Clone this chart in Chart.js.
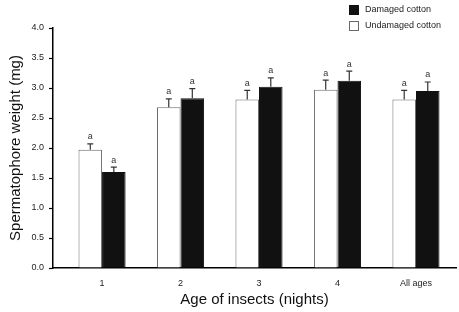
<!DOCTYPE html>
<html>
<head>
<meta charset="utf-8">
<script src="https://cdn.jsdelivr.net/npm/chart.js@4.4.0/dist/chart.umd.min.js"></script>
<style>
  html, body { margin: 0; padding: 0; background: #fff; }
  #wrap { width: 459px; height: 312px; }
</style>
</head>
<body>
<div id="wrap"><canvas id="bar-chart"></canvas></div>
<script>
var ages = ["1", "2", "3", "4", "All ages"];
var undamagedValues = [1.97, 2.68, 2.81, 2.97, 2.81];
var undamagedErrors = [0.10, 0.14, 0.15, 0.16, 0.15];
var damagedValues = [1.60, 2.83, 3.02, 3.12, 2.95];
var damagedErrors = [0.08, 0.16, 0.15, 0.16, 0.15];
var undamagedLetters = ["a", "a", "a", "a", "a"];
var damagedLetters = ["a", "a", "a", "a", "a"];
var yTicks = [0, 0.5, 1, 1.5, 2, 2.5, 3, 3.5, 4];

var FONT = "'Liberation Sans', Arial, sans-serif";

function toPoints(values) {
  return values.map(function (v, i) { return { x: i + 1, y: v }; });
}

// error whiskers (upward only) + significance letters
var errorBars = {
  id: 'errorBars',
  afterDatasetsDraw: function (chart) {
    var ctx = chart.ctx;
    var yScale = chart.scales.y;
    chart.data.datasets.forEach(function (ds, di) {
      var meta = chart.getDatasetMeta(di);
      meta.data.forEach(function (bar, i) {
        var v = ds.data[i].y;
        var top = yScale.getPixelForValue(v + ds.errors[i]);
        var base = yScale.getPixelForValue(v);
        ctx.save();
        ctx.strokeStyle = '#333';
        ctx.lineWidth = 1.2;
        ctx.beginPath();
        ctx.moveTo(bar.x, base);
        ctx.lineTo(bar.x, top);
        ctx.moveTo(bar.x - 3, top);
        ctx.lineTo(bar.x + 3, top);
        ctx.stroke();
        ctx.fillStyle = '#333';
        ctx.font = '9px ' + FONT;
        ctx.textAlign = 'center';
        ctx.textBaseline = 'middle';
        ctx.fillText(ds.letters[i], bar.x, top - 7);
        ctx.restore();
      });
    });
  }
};

// legend stacked in the top right corner
var cornerLegend = {
  id: 'cornerLegend',
  afterDraw: function (chart) {
    var ctx = chart.ctx;
    var order = [1, 0];
    order.forEach(function (di, row) {
      var ds = chart.data.datasets[di];
      var y = 5 + row * 16;
      ctx.save();
      ctx.fillStyle = ds.backgroundColor;
      ctx.strokeStyle = ds.borderColor;
      ctx.lineWidth = 1;
      ctx.fillRect(349.5, y + 0.5, 9, 9);
      ctx.strokeRect(349.5, y + 0.5, 9, 9);
      ctx.fillStyle = '#222';
      ctx.font = '9px ' + FONT;
      ctx.textBaseline = 'middle';
      ctx.fillText(ds.label, 365, y + 5);
      ctx.restore();
    });
  }
};

new Chart(document.getElementById('bar-chart'), {
  type: 'bar',
  data: {
    datasets: [{
      label: 'Undamaged cotton',
      data: toPoints(undamagedValues),
      errors: undamagedErrors,
      letters: undamagedLetters,
      backgroundColor: '#ffffff',
      borderColor: '#6a6a6a',
      borderWidth: 1
    }, {
      label: 'Damaged cotton',
      data: toPoints(damagedValues),
      errors: damagedErrors,
      letters: damagedLetters,
      backgroundColor: '#111111',
      borderColor: '#111111',
      borderWidth: 1
    }]
  },
  options: {
    responsive: true,
    maintainAspectRatio: false,
    animation: false,
    layout: { padding: { left: 0, right: 3, top: 28, bottom: 0 } },
    datasets: { bar: { categoryPercentage: 0.6, barPercentage: 1.0 } },
    plugins: { legend: { display: false }, tooltip: { enabled: false } },
    scales: {
      x: {
        type: 'linear',
        offset: false,
        min: 0.375,
        max: 5.51,
        afterBuildTicks: function (axis) {
          axis.ticks = ages.map(function (a, i) { return { value: i + 1 }; });
        },
        afterFit: function (scale) { scale.height = 44; },
        grid: { display: false, drawTicks: false },
        border: { display: true, color: '#000', width: 1.5 },
        ticks: {
          color: '#222',
          font: { family: FONT, size: 9 },
          padding: 10,
          maxRotation: 0,
          autoSkip: false,
          callback: function (v) { return ages[v - 1]; }
        },
        title: {
          display: true,
          text: 'Age of insects (nights)',
          color: '#111',
          font: { family: FONT, size: 15 },
          padding: { top: 0, bottom: 3 }
        }
      },
      y: {
        min: 0,
        max: 4,
        afterBuildTicks: function (axis) {
          axis.ticks = yTicks.map(function (v) { return { value: v }; });
        },
        afterFit: function (scale) { scale.width = 53; },
        grid: { display: true, drawOnChartArea: false, drawTicks: true, tickLength: 4, tickColor: '#000', tickWidth: 1.2 },
        border: { display: true, color: '#000', width: 1.5 },
        ticks: {
          color: '#222',
          font: { family: FONT, size: 9 },
          padding: 5,
          callback: function (v) { return v.toFixed(1); }
        },
        title: {
          display: true,
          text: 'Spermatophore weight (mg)',
          color: '#111',
          font: { family: FONT, size: 15 },
          padding: { top: 7, bottom: 0 }
        }
      }
    }
  },
  plugins: [errorBars, cornerLegend]
});
</script>
</body>
</html>
